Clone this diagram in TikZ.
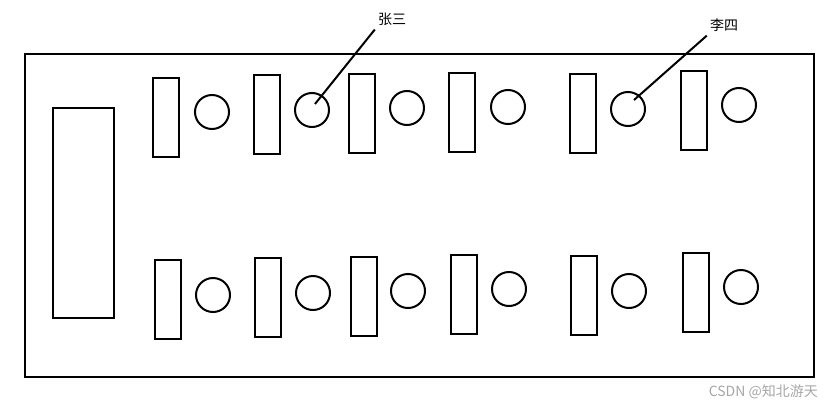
\documentclass[tikz,border=0pt]{standalone}
\usepackage{fontspec}
\newfontfamily\cjk{Noto Sans CJK SC}
\usepackage{tikz}

\tikzset{
	seat/.style={draw, line width=2pt, minimum width=26pt, minimum height=79pt, inner sep=0pt},
	person/.style={draw, circle, line width=2pt, minimum size=34pt, inner sep=0pt},
	tag/.style={font=\cjk\fontsize{14}{16}\selectfont, inner sep=1pt}
}

\begin{document}
\begin{tikzpicture}[x=1pt, y=-1pt]
	\useasboundingbox (0,0) rectangle (830,407);
	\draw [line width=2pt] (25,54) rectangle (814,377);
	\draw [line width=2pt] (53,108) rectangle (114,318);
	% top row
	\foreach \i/\rx/\ry/\cx/\cy in {1/166/117/212/112, 2/267/114/312/110, 3/362/113/407/108,
			4/462/112/508/107, 5/583/113/628/109, 6/694/110/739/105}
	{
		\node [seat] (t\i) at (\rx,\ry) {};
		\node [person] (tp\i) at (\cx,\cy) {};
	}
	% bottom row
	\foreach \i/\rx/\ry/\cx/\cy in {1/168/299/213/295, 2/268/297/313/293, 3/364/296/408/291,
			4/464/294/509/289, 5/584/295/629/291, 6/696/292/741/287}
	{
		\node [seat] (b\i) at (\rx,\ry) {};
		\node [person] (bp\i) at (\cx,\cy) {};
	}
	\node [tag] (zs) at (392,19) {张三};
	\node [tag] (ls) at (724,25) {李四};
	\coordinate (zsend) at (315,104);
	\coordinate (lsend) at (634,100);
	\draw [line width=2pt] (zs.south west) ++(-2,3) -- (zsend);
	\draw [line width=2pt] (ls.south west) ++(-2,3) -- (lsend);
	\node [font=\cjk\fontsize{14}{16}\selectfont, text=black!35, anchor=east, inner sep=0pt] (mark) at (818,392) {CSDN @知北游天};
\end{tikzpicture}
\end{document}
